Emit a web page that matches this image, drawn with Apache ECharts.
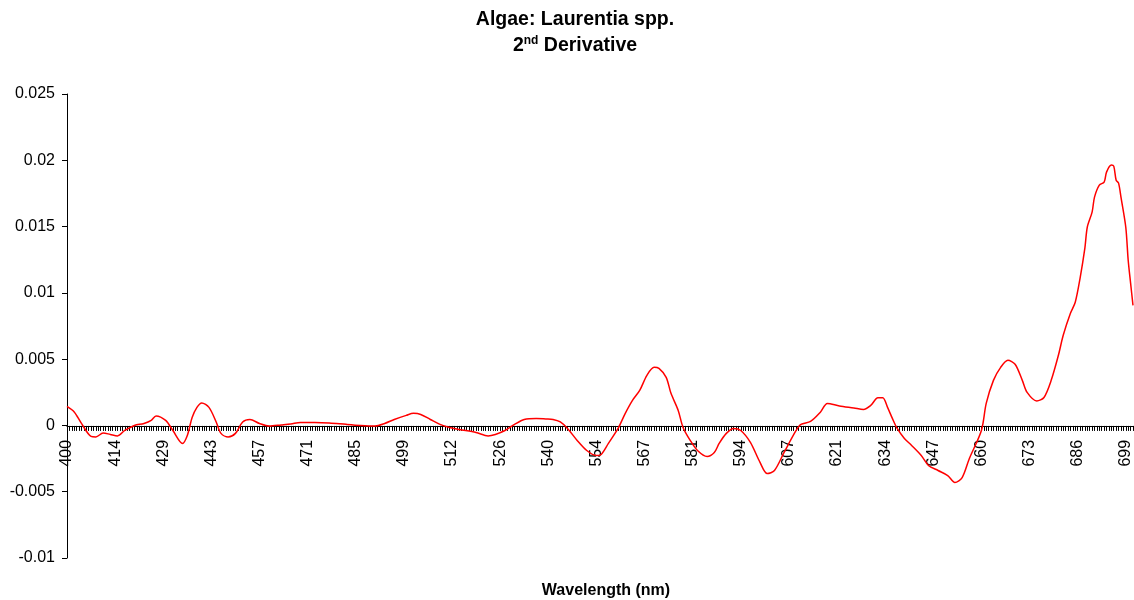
<!DOCTYPE html>
<html>
<head>
<meta charset="utf-8">
<script src="https://cdn.jsdelivr.net/npm/echarts@6/dist/echarts.min.js"></script>
<style>
  html, body { margin: 0; padding: 0; background: #ffffff; }
  #chart { width: 1134px; height: 600px; }
</style>
</head>
<body>
<div id="chart"></div>
<script>
// Labelled wavelengths along the axis (one label every 20 detector channels)
const tickLabels = ['400', '414', '429', '443', '457', '471', '485', '499', '512', '526', '540',
  '554', '567', '581', '594', '607', '621', '634', '647', '660', '673', '686', '699'];
const channelsPerLabel = 20;
const channelCount = 444;

// Second-derivative spectrum, sampled by detector channel
const sampleChannel = [
  0, 3, 6, 10, 12, 15, 18, 21, 24, 28, 32, 35, 37, 41, 44, 48, 50, 52, 54, 56,
  59, 62, 64, 67, 70, 73, 76, 80, 84, 89, 93, 97, 103, 109, 116, 122, 128, 132, 136, 141,
  144, 147, 151, 155, 159, 163, 170, 175, 178, 182, 186, 190, 195, 199, 202, 205, 208, 212, 216, 220,
  222, 225, 229, 232, 235, 238, 241, 244, 246, 249, 251, 254, 256, 259, 262, 266, 269, 271, 274, 277,
  280, 284, 288, 291, 294, 298, 303, 305, 309, 313, 316, 321, 327, 331, 334, 337, 339, 341, 343, 345,
  348, 351, 355, 358, 362, 366, 369, 372, 375, 380, 382, 385, 388, 391, 394, 397, 399, 403, 406, 409,
  412, 414, 417, 419, 421, 423, 424, 426, 427, 429, 431, 432, 434, 435, 436, 437, 438, 440, 441, 442,
  443
];
const sampleValue = [
  0.00144, 0.00102, 0.00015, -0.00083, -0.00087, -0.00057, -0.00068, -0.00079, -0.00038, 0.0,
  0.00015, 0.00038, 0.00072, 0.00038, -0.00038, -0.00136, -0.00076, 0.0006, 0.00136, 0.0017,
  0.00136, 0.00026, -0.0006, -0.00087, -0.0006, 0.00026, 0.00045, 0.00015, -0.00004, 0.00004,
  0.00011, 0.00023, 0.00023, 0.00019, 0.00008, 0.0, -0.00004, 0.00015, 0.00045, 0.00076,
  0.00091, 0.00083, 0.00045, 0.00008, -0.00015, -0.0003, -0.00053, -0.00079, -0.00068, -0.00038,
  0.00008, 0.00045, 0.00053, 0.00049, 0.00045, 0.00026, -0.00023, -0.00113, -0.00189, -0.00227,
  -0.00219, -0.00136, -0.00023, 0.00091, 0.00189, 0.00264, 0.00378, 0.00438, 0.0043, 0.00363,
  0.00242, 0.00113, -0.00015, -0.00113, -0.00189, -0.00234, -0.00204, -0.00136, -0.0006, -0.00023,
  -0.00038, -0.00128, -0.00279, -0.00363, -0.0034, -0.00204, -0.00038, 0.00008, 0.0003, 0.00098,
  0.00166, 0.00147, 0.00132, 0.00121, 0.00151, 0.00208, 0.00208, 0.00136, 0.00053, -0.00023,
  -0.00098, -0.00151, -0.00227, -0.00302, -0.0034, -0.00378, -0.0043, -0.00393, -0.00249, -0.00038,
  0.00166, 0.0034, 0.00438, 0.00491, 0.00461, 0.0034, 0.00249, 0.00185, 0.00211, 0.0034,
  0.00529, 0.0068, 0.00846, 0.00929, 0.0111, 0.01337, 0.01495, 0.01609, 0.01722, 0.01813,
  0.01835, 0.01911, 0.01964, 0.01956, 0.0185, 0.01828, 0.01722, 0.01495, 0.01246, 0.01073,
  0.00906
];

// Value axis range
const yMin = -0.01;
const yMax = 0.025;
const yStep = 0.005;

// Wavelength of every channel, stepped evenly between neighbouring labels
const categories = [];
for (let i = 0; i < channelCount; i++) {
  const k = Math.min(Math.floor(i / channelsPerLabel), tickLabels.length - 2);
  const j = i - k * channelsPerLabel;
  const a = Number(tickLabels[k]);
  const b = Number(tickLabels[k + 1]);
  categories.push((a + (b - a) * j / channelsPerLabel).toFixed(2));
}

const curve = sampleChannel.map((c, i) => [c, sampleValue[i]]);

const font = 'Arial, "Liberation Sans", Helvetica, sans-serif';
const chart = echarts.init(document.getElementById('chart'), null, { renderer: 'canvas' });

chart.setOption({
  animation: false,
  backgroundColor: '#ffffff',
  title: [
    {
      text: 'Algae: Laurentia spp.',
      left: 570, top: 5, textAlign: 'center',
      textStyle: { fontFamily: font, fontSize: 19.5, fontWeight: 'bold', color: '#000' }
    },
    {
      text: '{b|2}{s|nd}{b| Derivative}',
      left: 570, top: 29, textAlign: 'center',
      textStyle: {
        fontFamily: font, fontSize: 19.5, fontWeight: 'bold', color: '#000',
        rich: {
          b: { fontFamily: font, fontSize: 19.5, fontWeight: 'bold', color: '#000', lineHeight: 24 },
          s: { fontFamily: font, fontSize: 12, fontWeight: 'bold', color: '#000', lineHeight: 24, padding: [0, 0, 11, 0] }
        }
      }
    },
    {
      text: 'Wavelength (nm)',
      left: 601, top: 578, textAlign: 'center',
      textStyle: { fontFamily: font, fontSize: 16, fontWeight: 'bold', color: '#000' }
    }
  ],
  grid: { left: 67, right: 1, top: 94, bottom: 42, containLabel: false },
  xAxis: {
    type: 'category',
    data: categories,
    boundaryGap: false,
    position: 'bottom',
    axisLine: { onZero: false, lineStyle: { color: '#000', width: 1 } },
    axisTick: { show: true, interval: 0, length: 5, inside: false, lineStyle: { color: '#000', width: 1 } },
    axisLabel: {
      interval: channelsPerLabel - 1,
      rotate: 90,
      margin: 14,
      fontFamily: font, fontSize: 16, color: '#000',
      formatter: v => String(Math.round(Number(v)))
    },
    splitLine: { show: false }
  },
  yAxis: {
    type: 'value',
    min: yMin, max: yMax, interval: yStep,
    axisLine: { show: true, lineStyle: { color: '#000', width: 1 } },
    axisTick: { show: true, length: 5, lineStyle: { color: '#000', width: 1 } },
    axisLabel: { margin: 12, fontFamily: font, fontSize: 16, color: '#000' },
    splitLine: { show: false }
  },
  series: [{
    type: 'line',
    data: curve,
    showSymbol: false,
    smooth: 0.3,
    lineStyle: { color: '#ff0000', width: 1.5 },
    z: 3
  }]
});

// Lift the category axis (line, ticks and labels) up to the zero line of the value axis
const zeroY = chart.convertToPixel({ yAxisIndex: 0 }, 0);
const bottomY = chart.convertToPixel({ yAxisIndex: 0 }, yMin);
chart.setOption({ xAxis: { offset: zeroY - bottomY } });
</script>
</body>
</html>
